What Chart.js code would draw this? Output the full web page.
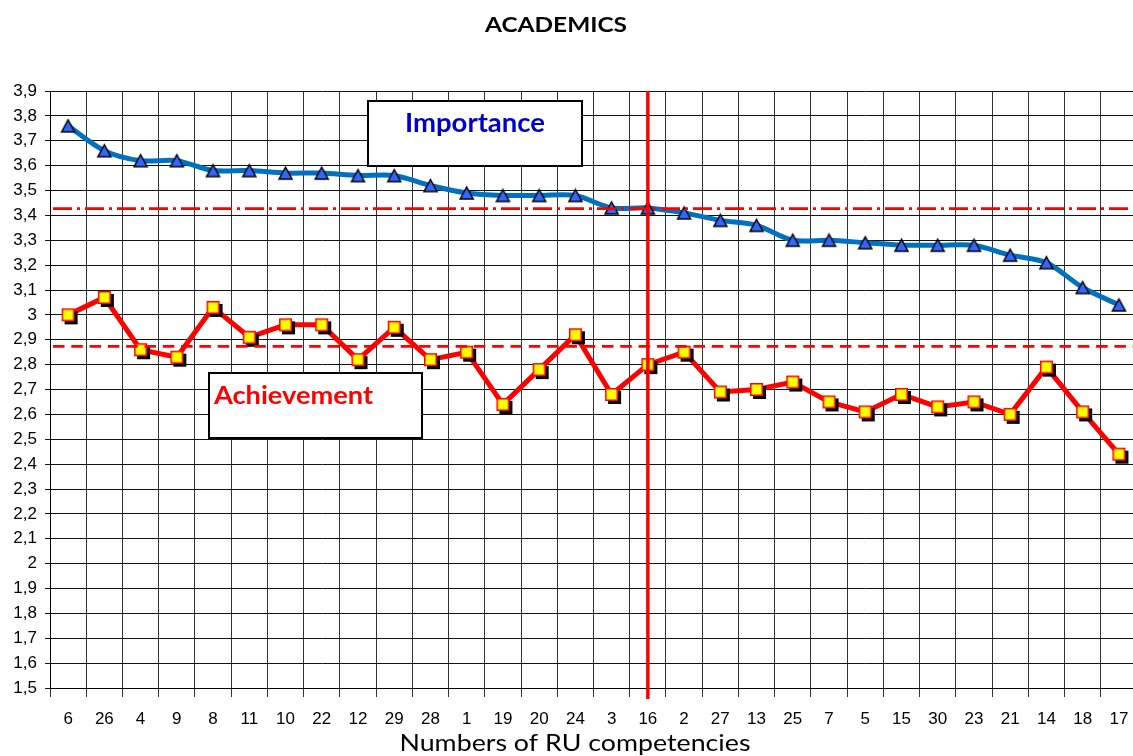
<!DOCTYPE html>
<html>
<head>
<meta charset="utf-8">
<title>Academics</title>
<script src="https://cdn.jsdelivr.net/npm/chart.js@4.4.1/dist/chart.umd.min.js"></script>
<style>
  html, body { margin: 0; padding: 0; background: #fff; overflow: hidden; }
  /* the plot runs on past the right edge of the page */
  #wrap { width: 1150px; height: 756px; }
</style>
</head>
<body>
<div id="wrap"><canvas id="chart" width="1150" height="756"></canvas></div>
<script>
// RU competency numbers, sorted by importance
const competencies = ['6', '26', '4', '9', '8', '11', '10', '22', '12', '29', '28', '1', '19', '20', '24',
  '3', '16', '2', '27', '13', '25', '7', '5', '15', '30', '23', '21', '14', '18', '17']

const importance = [3.76, 3.66, 3.62, 3.62, 3.58, 3.58, 3.57, 3.57, 3.56, 3.56, 3.52, 3.49, 3.48, 3.48, 3.48,
  3.43, 3.43, 3.41, 3.38, 3.36, 3.30, 3.30, 3.29, 3.28, 3.28, 3.28, 3.24, 3.21, 3.11, 3.04]

const achievement = [3.00, 3.07, 2.86, 2.83, 3.03, 2.91, 2.96, 2.96, 2.82, 2.95, 2.82, 2.85, 2.64, 2.78, 2.92,
  2.68, 2.80, 2.85, 2.69, 2.70, 2.73, 2.65, 2.61, 2.68, 2.63, 2.65, 2.60, 2.79, 2.61, 2.44]

// horizontal reference levels and the split column
const importanceLevel = 3.427
const achievementLevel = 2.873
const splitCompetency = '16'

const yMin = 1.5
const yMax = 3.9
const yStep = 0.1

const TEXT_FONT = 'Lato, "Open Sans", sans-serif'
const TICK_FONT = '"Liberation Sans", Arial, sans-serif'

// yellow square with a hard black drop shadow
function squareMarker (side, shadow) {
  const pad = shadow + 1
  const c = document.createElement('canvas')
  c.width = c.height = side + 2 * pad
  const ctx = c.getContext('2d')
  ctx.fillStyle = '#000'
  ctx.fillRect(pad + shadow, pad + shadow, side, side)
  ctx.fillStyle = '#ffff00'
  ctx.fillRect(pad, pad, side, side)
  ctx.strokeStyle = '#ff0000'
  ctx.lineWidth = 1.5
  ctx.strokeRect(pad + 0.75, pad + 0.75, side - 1.5, side - 1.5)
  return c
}

// blue triangle centred on its bounding box
function triangleMarker (w, h) {
  const pad = 2
  const c = document.createElement('canvas')
  c.width = w + 2 * pad
  c.height = h + 2 * pad
  const ctx = c.getContext('2d')
  ctx.beginPath()
  ctx.moveTo(pad + w / 2, pad)
  ctx.lineTo(pad + w, pad + h)
  ctx.lineTo(pad, pad + h)
  ctx.closePath()
  ctx.fillStyle = '#3366ff'
  ctx.fill()
  ctx.lineWidth = 1.5
  ctx.strokeStyle = '#000'
  ctx.stroke()
  return c
}

// draw text squeezed/stretched to a given width
function fitText (ctx, text, x, baseline, width, font, color, align = 'center') {
  ctx.save()
  ctx.font = font
  const w = ctx.measureText(text).width
  ctx.translate(x, baseline)
  ctx.scale(width / w, 1)
  ctx.fillStyle = color
  ctx.textAlign = align
  ctx.textBaseline = 'alphabetic'
  ctx.fillText(text, 0, 0)
  ctx.restore()
}

function labelBox (ctx, left, top, right, bottom) {
  ctx.save()
  ctx.fillStyle = '#fff'
  ctx.fillRect(left, top, right - left, bottom - top)
  ctx.strokeStyle = '#000'
  ctx.lineWidth = 2
  ctx.strokeRect(left, top, right - left, bottom - top)
  ctx.restore()
}

const seriesLabels = {
  id: 'seriesLabels',
  beforeDatasetsDraw (chart) {
    const ctx = chart.ctx
    labelBox(ctx, 368, 101, 582, 166)
    fitText(ctx, 'Importance', 475, 132, 140, `bold 26px ${TEXT_FONT}`, '#0000cc')
    labelBox(ctx, 209, 373, 422, 438)
    fitText(ctx, 'Achievement', 214, 404, 159, `bold 25px ${TEXT_FONT}`, '#ff0000', 'left')
  }
}

const referenceLines = {
  id: 'referenceLines',
  afterDatasetsDraw (chart) {
    const { ctx, chartArea: area, scales: { x, y } } = chart
    const hline = value => {
      const py = y.getPixelForValue(value)
      ctx.beginPath()
      ctx.moveTo(area.left + 3, py)
      ctx.lineTo(area.right, py)
      ctx.stroke()
    }
    ctx.save()
    ctx.strokeStyle = '#ff0000'
    ctx.lineWidth = 2.75
    ctx.setLineDash([19, 5, 3, 5])
    hline(importanceLevel)
    ctx.setLineDash([11.5, 6.8])
    hline(achievementLevel)

    ctx.setLineDash([])
    ctx.lineWidth = 3.5
    const px = x.getPixelForValue(competencies.indexOf(splitCompetency))
    ctx.beginPath()
    ctx.moveTo(px, area.top)
    ctx.lineTo(px, area.bottom + 11)
    ctx.stroke()
    ctx.restore()
  }
}

const titles = {
  id: 'titles',
  afterDraw (chart) {
    const ctx = chart.ctx
    fitText(ctx, 'ACADEMICS', 556, 32, 142, `bold 21px ${TEXT_FONT}`, '#000')
    fitText(ctx, 'Numbers of RU competencies', 575, 751, 351, `24px ${TEXT_FONT}`, '#000')
  }
}

new Chart(document.getElementById('chart'), {
  type: 'line',
  data: {
    labels: competencies,
    datasets: [
      {
        label: 'Importance',
        data: importance,
        borderColor: '#0070c0',
        borderWidth: 5,
        tension: 0.3,
        pointStyle: triangleMarker(13, 12),
        pointRadius: 8
      },
      {
        label: 'Achievement',
        data: achievement,
        borderColor: '#ff0000',
        borderWidth: 5,
        tension: 0,
        pointStyle: squareMarker(13, 3),
        pointRadius: 8
      }
    ]
  },
  options: {
    responsive: false,
    animation: false,
    events: [],
    devicePixelRatio: 1,
    layout: { padding: { top: 91, right: 0, bottom: 0, left: 0 } },
    plugins: {
      legend: { display: false },
      tooltip: { enabled: false }
    },
    scales: {
      x: {
        offset: true,
        grid: { offset: true, color: 'rgba(0,0,0,0.8)', lineWidth: 1, tickLength: 9 },
        border: { color: '#000', width: 1 },
        ticks: {
          color: '#000',
          font: { family: TICK_FONT, size: 17 },
          padding: 12,
          maxRotation: 0,
          autoSkip: false
        },
        afterFit: scale => { scale.height = 68 }
      },
      y: {
        min: yMin,
        max: yMax,
        grid: { color: '#111', lineWidth: 1, tickLength: 5 },
        border: { color: '#000', width: 1 },
        ticks: {
          stepSize: yStep,
          color: '#000',
          font: { family: TICK_FONT, size: 17 },
          padding: 8,
          callback: value => String(Number(value.toFixed(1))).replace('.', ',')
        },
        afterFit: scale => { scale.width = 50 }
      }
    }
  },
  plugins: [seriesLabels, referenceLines, titles]
})
</script>
</body>
</html>
